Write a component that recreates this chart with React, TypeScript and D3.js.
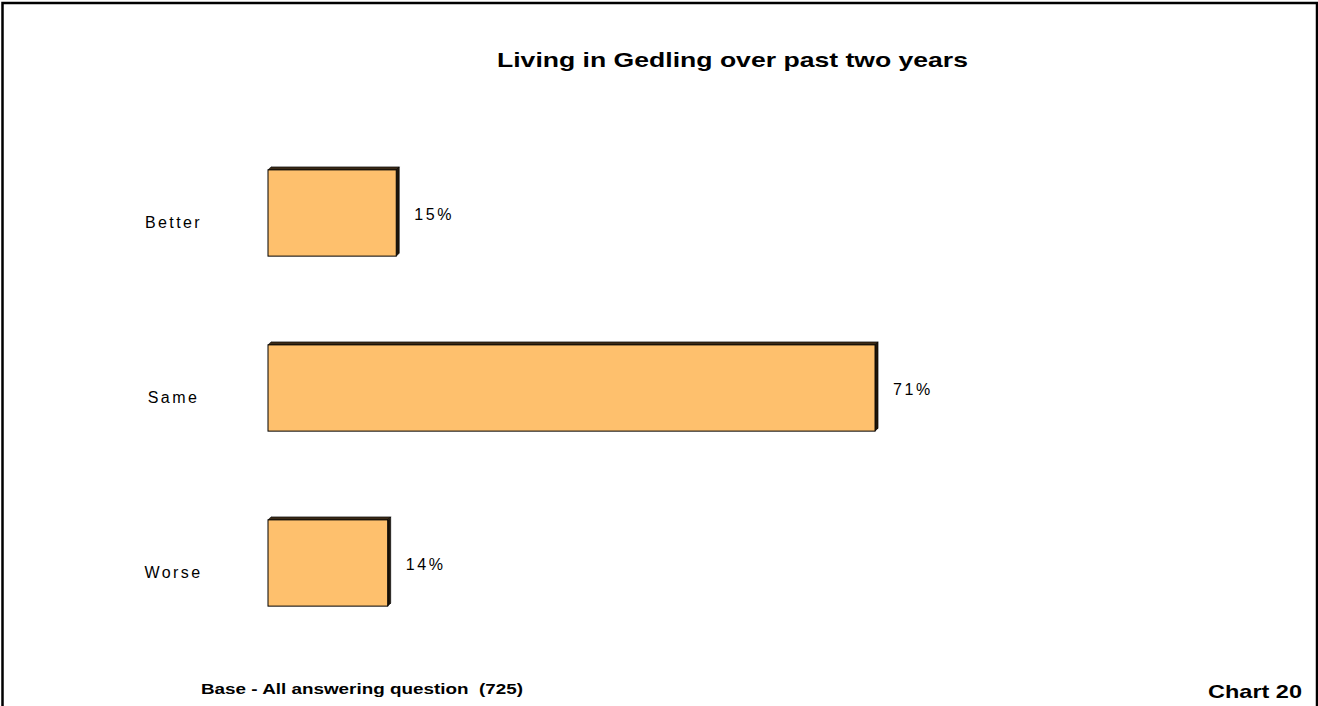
import React from "react";
import * as d3 from "d3";

// Survey responses: how living in Gedling has changed over the past two years
const categories = ["Better", "Same", "Worse"];
const percentages = [15, 71, 14];
const chartTitle = "Living in Gedling over past two years";
const baseNote = "Base - All answering question  (725)";
const chartNumber = "Chart 20";

const W = 1318;
const H = 706;
const FILL = "#FEC06D";
const TOP_FACE = "#3b2a16";
const SIDE_FACE = "#1e1509";
const DEPTH = 3;

export default function App() {
  const x = d3.scaleLinear().domain([0, 100]).range([268, 1123]);
  const y = d3
    .scaleBand<string>()
    .domain(categories)
    .range([124, 649])
    .paddingInner(0.49)
    .paddingOuter(0.245);

  const font = "'Liberation Sans', Arial, Helvetica, sans-serif";

  return (
    <svg
      width={W}
      height={H}
      style={{ position: "absolute", left: 0, top: 0, background: "#fff" }}
      fontFamily={font}
    >
      <rect x={2.5} y={3} width={1314.5} height={720} fill="none" stroke="#000" strokeWidth={2.5} />

      <text
        x={497}
        y={67}
        fontSize={20.5}
        fontWeight="bold"
        textLength={471}
        lengthAdjust="spacingAndGlyphs"
      >
        {chartTitle}
      </text>

      {categories.map((c, i) => {
        const v = percentages[i];
        const y0 = (y(c) as number) + DEPTH;
        const bh = y.bandwidth() - DEPTH;
        const x0 = x(0);
        const x1 = x(v);
        const mid = y0 + bh / 2;
        return (
          <g key={c}>
            {/* top face */}
            <polygon
              points={`${x0},${y0} ${x0 + DEPTH},${y0 - DEPTH} ${x1 + DEPTH},${y0 - DEPTH} ${x1},${y0}`}
              fill={TOP_FACE}
              stroke="#000"
              strokeWidth={0.6}
            />
            {/* side face */}
            <polygon
              points={`${x1},${y0} ${x1 + DEPTH},${y0 - DEPTH} ${x1 + DEPTH},${y0 + bh - DEPTH} ${x1},${y0 + bh}`}
              fill={SIDE_FACE}
              stroke="#000"
              strokeWidth={0.6}
            />
            {/* front face */}
            <rect x={x0} y={y0} width={x1 - x0} height={bh} fill={FILL} stroke="#000" strokeWidth={1} />
            <text x={x1 + 18} y={mid + 6.5} fontSize={16} letterSpacing={2.6}>
              {`${v}%`}
            </text>
            <text x={173.5} y={mid + 14.5} textAnchor="middle" fontSize={16} letterSpacing={2.4}>
              {c}
            </text>
          </g>
        );
      })}

      <text
        x={201}
        y={694}
        fontSize={14.5}
        fontWeight="bold"
        textLength={322}
        lengthAdjust="spacingAndGlyphs"
        style={{ whiteSpace: "pre" }}
      >
        {baseNote}
      </text>
      <text
        x={1208}
        y={697.5}
        fontSize={18.5}
        fontWeight="bold"
        textLength={94}
        lengthAdjust="spacingAndGlyphs"
      >
        {chartNumber}
      </text>
    </svg>
  );
}
